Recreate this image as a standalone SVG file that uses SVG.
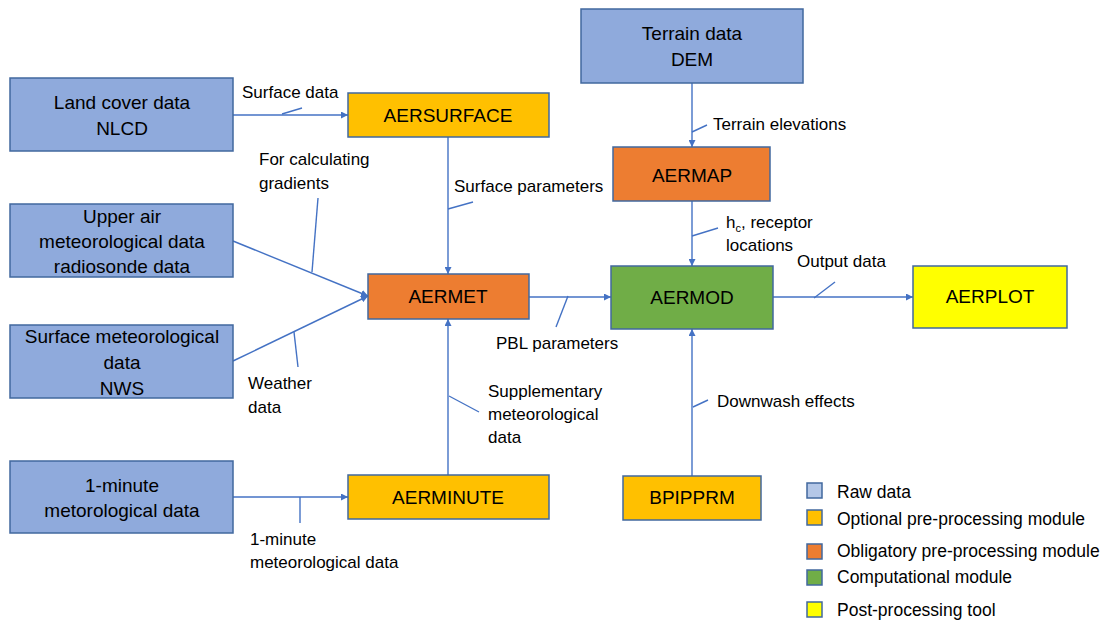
<svg xmlns="http://www.w3.org/2000/svg" width="1105" height="621" viewBox="0 0 1105 621">
<style>
.box{stroke:#41689E;stroke-width:1.5}
.raw{fill:#8FAADC}
.opt{fill:#FFC000}
.obl{fill:#ED7D31}
.comp{fill:#70AD47}
.post{fill:#FFFF00}
.bt{font-family:"Liberation Sans",Arial,sans-serif;font-size:19px;fill:#000;text-anchor:middle}
.lt{font-family:"Liberation Sans",Arial,sans-serif;font-size:17px;fill:#000}
.lg{font-family:"Liberation Sans",Arial,sans-serif;font-size:17.5px;fill:#000}
.con{stroke:#4472C4;stroke-width:1.4;fill:none}
.arr{marker-end:url(#ah)}
</style>
<defs>
<marker id="ah" viewBox="0 0 10 10" refX="10" refY="5" markerWidth="7" markerHeight="7" markerUnits="userSpaceOnUse" orient="auto">
<path d="M0,0 L10,5 L0,10 z" fill="#4472C4"/>
</marker>
</defs>
<rect width="1105" height="621" fill="#fff"/>

<g id="connectors">
<line class="con arr" x1="233" y1="115" x2="348" y2="115"/>
<line class="con" x1="282" y1="114" x2="302" y2="108"/>
<line class="con arr" x1="448" y1="137" x2="448" y2="274"/>
<line class="con" x1="448" y1="209" x2="473" y2="202"/>
<line class="con arr" x1="233" y1="241" x2="368" y2="296"/>
<line class="con" x1="318" y1="198" x2="312" y2="272"/>
<line class="con arr" x1="233" y1="361" x2="368" y2="296"/>
<line class="con" x1="294" y1="332" x2="298" y2="367"/>
<line class="con arr" x1="448" y1="475" x2="448" y2="319"/>
<line class="con" x1="449" y1="396" x2="479" y2="412"/>
<line class="con arr" x1="233" y1="497" x2="348" y2="497"/>
<line class="con" x1="300" y1="497" x2="300" y2="523"/>
<line class="con arr" x1="692" y1="83" x2="692" y2="147"/>
<line class="con" x1="692" y1="132" x2="707" y2="125"/>
<line class="con arr" x1="692" y1="201" x2="692" y2="266"/>
<line class="con" x1="692" y1="236" x2="718" y2="228"/>
<line class="con arr" x1="529" y1="297" x2="611" y2="297"/>
<line class="con" x1="568" y1="296" x2="556" y2="327"/>
<line class="con arr" x1="773" y1="297" x2="913" y2="297"/>
<line class="con" x1="814" y1="298" x2="835" y2="282"/>
<line class="con arr" x1="692" y1="476" x2="692" y2="329"/>
<line class="con" x1="693" y1="407" x2="708" y2="400"/>
</g>

<g id="labels">
<text class="lt" x="242" y="98">Surface data</text>
<text class="lt" x="454" y="192">Surface parameters</text>
<text class="lt" x="259" y="165">For calculating</text>
<text class="lt" x="259" y="189">gradients</text>
<text class="lt" x="248" y="389">Weather</text>
<text class="lt" x="248" y="413">data</text>
<text class="lt" x="488" y="397">Supplementary</text>
<text class="lt" x="488" y="420">meteorological</text>
<text class="lt" x="488" y="443">data</text>
<text class="lt" x="250" y="545">1-minute</text>
<text class="lt" x="250" y="568">meteorological data</text>
<text class="lt" x="713" y="130">Terrain elevations</text>
<text class="lt" x="726" y="228">h<tspan font-size="11" dy="4">c</tspan><tspan dy="-4">, receptor</tspan></text>
<text class="lt" x="726" y="251">locations</text>
<text class="lt" x="496" y="349">PBL parameters</text>
<text class="lt" x="797" y="267">Output data</text>
<text class="lt" x="717" y="407">Downwash effects</text>
</g>

<g id="land-cover"><rect class="box raw" x="10" y="78" width="223" height="73"/>
<text class="bt" x="122" y="109">Land cover data</text><text class="bt" x="122" y="135">NLCD</text></g>
<g id="upper-air"><rect class="box raw" x="10" y="204" width="223" height="73"/>
<text class="bt" x="122" y="223">Upper air</text><text class="bt" x="122" y="248">meteorological data</text><text class="bt" x="122" y="273">radiosonde data</text></g>
<g id="surface-met"><rect class="box raw" x="10" y="325" width="223" height="73"/>
<text class="bt" x="122" y="343">Surface meteorological</text><text class="bt" x="122" y="369">data</text><text class="bt" x="122" y="395">NWS</text></g>
<g id="one-minute"><rect class="box raw" x="10" y="461" width="223" height="72"/>
<text class="bt" x="122" y="492">1-minute</text><text class="bt" x="122" y="517">metorological data</text></g>
<g id="terrain"><rect class="box raw" x="581" y="9" width="222" height="74"/>
<text class="bt" x="692" y="40">Terrain data</text><text class="bt" x="692" y="66">DEM</text></g>

<g id="aersurface"><rect class="box opt" x="348" y="93" width="201" height="44"/>
<text class="bt" x="448" y="122">AERSURFACE</text></g>
<g id="aerminute"><rect class="box opt" x="348" y="475" width="201" height="44"/>
<text class="bt" x="448" y="504">AERMINUTE</text></g>
<g id="aermet"><rect class="box obl" x="368" y="274" width="161" height="45"/>
<text class="bt" x="448" y="303">AERMET</text></g>
<g id="aermap"><rect class="box obl" x="613" y="147" width="157" height="54"/>
<text class="bt" x="692" y="182">AERMAP</text></g>
<g id="aermod"><rect class="box comp" x="611" y="266" width="162" height="63"/>
<text class="bt" x="692" y="304">AERMOD</text></g>
<g id="aerplot"><rect class="box post" x="913" y="266" width="154" height="62"/>
<text class="bt" x="990" y="303">AERPLOT</text></g>
<g id="bpipprm"><rect class="box opt" x="623" y="476" width="138" height="44"/>
<text class="bt" x="692" y="504">BPIPPRM</text></g>

<g id="legend">
<rect class="box" fill="#B4C7E7" x="807" y="483" width="15" height="15" stroke-width="1"/>
<text class="lg" x="837" y="498">Raw data</text>
<rect class="box opt" x="807" y="510" width="15" height="15" stroke-width="1"/>
<text class="lg" x="837" y="525">Optional pre-processing module</text>
<rect class="box obl" x="807" y="544" width="15" height="15" stroke-width="1"/>
<text class="lg" x="837" y="557">Obligatory pre-processing module</text>
<rect class="box comp" x="807" y="570" width="15" height="15" stroke-width="1"/>
<text class="lg" x="837" y="583">Computational module</text>
<rect class="box post" x="807" y="602" width="15" height="15" stroke-width="1"/>
<text class="lg" x="837" y="616">Post-processing tool</text>
</g>
</svg>
